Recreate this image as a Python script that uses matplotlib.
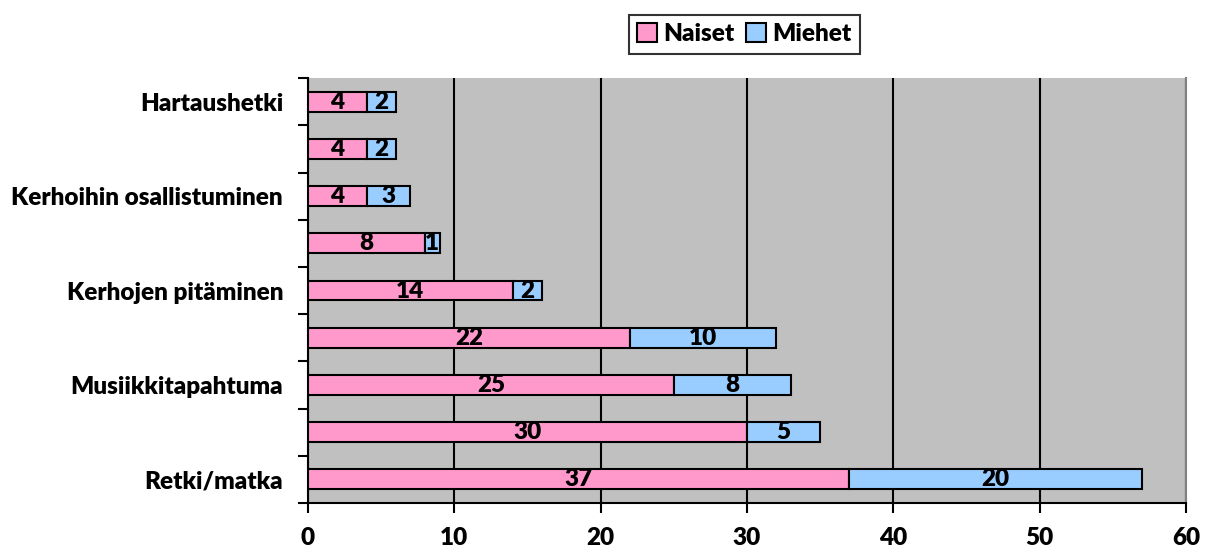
import matplotlib.pyplot as plt
import numpy as np

# categories from bottom to top (only every other label is shown in the source)
categories = ['Retki/matka', '', 'Musiikkitapahtuma', '', 'Kerhojen pitäminen',
              '', 'Kerhoihin osallistuminen', '', 'Hartaushetki']
naiset = [37, 30, 25, 22, 14, 8, 4, 4, 4]
miehet = [20, 5, 8, 10, 2, 1, 3, 2, 2]
x_ticks = [0, 10, 20, 30, 40, 50, 60]

plt.rcParams['font.family'] = ['Lato', 'DejaVu Sans']
wt = 'heavy'
plt.rcParams['font.weight'] = wt
fs = 17.5

fig = plt.figure(figsize=(12.16, 5.58), dpi=100)
ax = fig.add_axes([0.2533, 0.0986, 0.7220, 0.7614])
ax.set_facecolor('#c0c0c0')

y = np.arange(len(categories))
bar_h = 0.42
b1 = ax.barh(y, naiset, height=bar_h, color='#ff99cc', edgecolor='black', linewidth=1.5,
             label='Naiset', zorder=3)
b2 = ax.barh(y, miehet, left=naiset, height=bar_h, color='#99ccff', edgecolor='black',
             linewidth=1.5, label='Miehet', zorder=3)
ax.bar_label(b1, label_type='center', fontsize=fs, fontweight=wt)
ax.bar_label(b2, label_type='center', fontsize=fs, fontweight=wt)

ax.set_xlim(0, 60)
ax.set_ylim(-0.5, len(categories) - 0.5)
ax.set_xticks(x_ticks)
ax.set_xticklabels([str(t) for t in x_ticks], fontsize=fs, fontweight=wt)
ax.tick_params(axis='x', length=7, width=1.5, pad=10)

# category labels at bar centres, tick marks between categories
ax.set_yticks(y)
ax.set_yticklabels(categories, fontsize=fs, fontweight=wt)
ax.tick_params(axis='y', length=0, pad=18)
ax.set_yticks(np.arange(-0.5, len(categories), 1), minor=True)
ax.tick_params(axis='y', which='minor', length=7, width=1.5)

ax.grid(axis='x', color='black', linewidth=1.5, zorder=1)
ax.set_axisbelow(True)
for s in ['left', 'bottom']:
    ax.spines[s].set_linewidth(1.5)
    ax.spines[s].set_color('black')
ax.spines['right'].set_color('#808080')
ax.spines['right'].set_linewidth(1.5)
ax.spines['top'].set_visible(False)

leg = fig.legend(loc='center', bbox_to_anchor=(0.612, 0.939), ncol=2,
                 prop={'size': fs, 'weight': wt},
                 frameon=True, fancybox=False, edgecolor='black', handlelength=0.8,
                 handleheight=0.8, handletextpad=0.25, columnspacing=0.5,
                 borderpad=0.35)
leg.get_frame().set_linewidth(1.5)

fig.savefig('out.png', dpi=100)
